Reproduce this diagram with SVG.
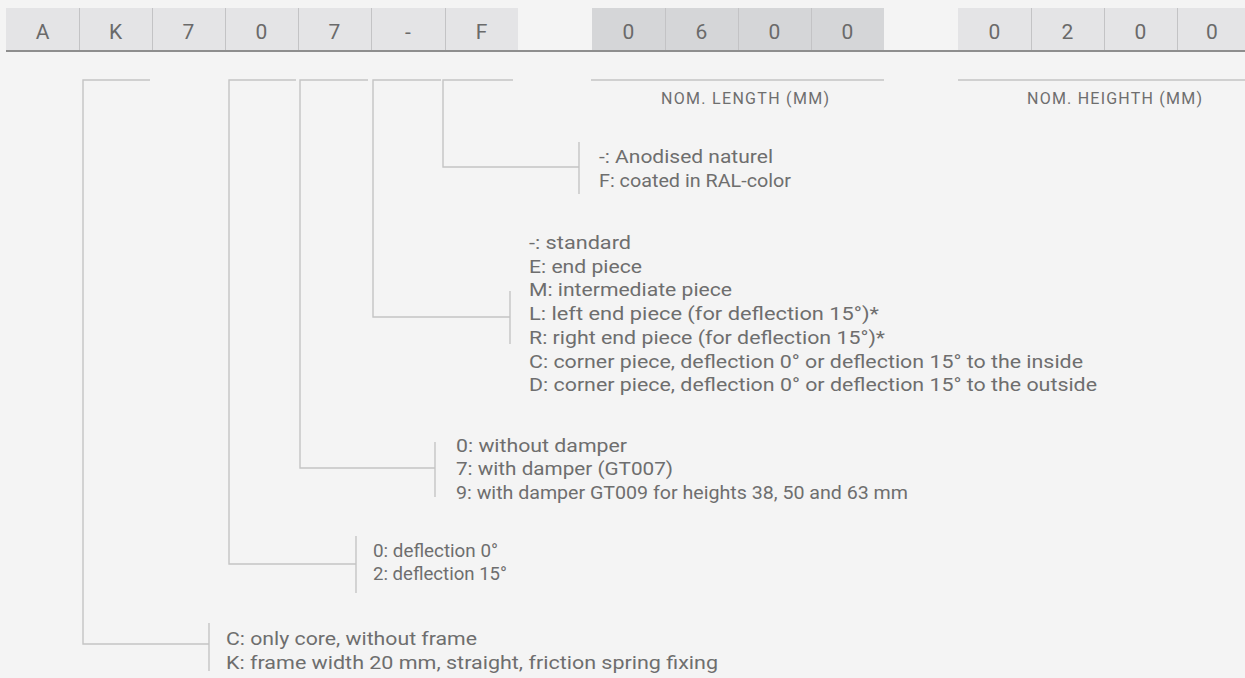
<svg xmlns="http://www.w3.org/2000/svg" width="1245" height="678" viewBox="0 0 1245 678">
<style>
.bg{fill:#f4f4f4}
.c1{fill:#e4e4e6}
.c2{fill:#d5d6d8}
.div{stroke:#c3c3c5;stroke-width:1}
.ul{stroke:#8e8e8e;stroke-width:2.2}
.ct{font-family:Roboto,"Liberation Sans",sans-serif;font-size:21px;fill:#6a6a6a;text-anchor:middle}
.ln{fill:none;stroke:#c4c4c4;stroke-width:1.4}
.t{font-family:Roboto,"Liberation Sans",sans-serif;font-size:19px;fill:#6e6e6e}
.h{font-family:Roboto,"Liberation Sans",sans-serif;font-size:16px;fill:#6e6e6e}
</style>
<rect class="bg" x="0" y="0" width="1245" height="678"/>
<g id="code-bar">
<rect class="c1" x="6" y="8" width="512" height="43"/>
<rect class="c2" x="592" y="8" width="292" height="43"/>
<rect class="c1" x="958" y="8" width="287" height="43"/>
<path class="div" d="M79.5,8V50M152.5,8V50M225.5,8V50M298.5,8V50M371.5,8V50M445.5,8V50M665.5,8V50M738.5,8V50M811.5,8V50M1031.5,8V50M1104.5,8V50M1177.5,8V50"/>
<line class="ul" x1="6" y1="51" x2="1245" y2="51"/>
<text class="ct" x="42.5" y="39">A</text>
<text class="ct" x="115.5" y="39">K</text>
<text class="ct" x="188.5" y="39">7</text>
<text class="ct" x="261.5" y="39">0</text>
<text class="ct" x="334.5" y="39">7</text>
<text class="ct" x="408" y="39">-</text>
<text class="ct" x="481.5" y="39">F</text>
<text class="ct" x="628.5" y="39">0</text>
<text class="ct" x="701.5" y="39">6</text>
<text class="ct" x="774.5" y="39">0</text>
<text class="ct" x="847.5" y="39">0</text>
<text class="ct" x="994.5" y="39">0</text>
<text class="ct" x="1067.5" y="39">2</text>
<text class="ct" x="1140.5" y="39">0</text>
<text class="ct" x="1212" y="39">0</text>
</g>
<g id="connectors">
<path class="ln" d="M150,80H83V644H209"/>
<path class="ln" d="M209,623V671"/>
<path class="ln" d="M296,80H229V564H356"/>
<path class="ln" d="M356,536V593"/>
<path class="ln" d="M368,80H300V468H435"/>
<path class="ln" d="M435,442V497"/>
<path class="ln" d="M441,80H373V317H510"/>
<path class="ln" d="M510,291V344"/>
<path class="ln" d="M513,80H443V167H579"/>
<path class="ln" d="M579,142V194"/>
<path class="ln" d="M591,80H884"/>
<path class="ln" d="M958,80H1245"/>
</g>
<g id="length-label">
<text class="h" x="661" y="104" textLength="168">NOM. LENGTH (MM)</text>
</g>
<g id="height-label">
<text class="h" x="1027" y="104" textLength="175">NOM. HEIGHTH (MM)</text>
</g>
<g id="colour-options">
<text class="t" x="599" y="163" textLength="174" lengthAdjust="spacingAndGlyphs">-: Anodised naturel</text>
<text class="t" x="599" y="187" textLength="192" lengthAdjust="spacingAndGlyphs">F: coated in RAL-color</text>
</g>
<g id="piece-options">
<text class="t" x="529" y="249" textLength="102" lengthAdjust="spacingAndGlyphs">-: standard</text>
<text class="t" x="529" y="272.7" textLength="113" lengthAdjust="spacingAndGlyphs">E: end piece</text>
<text class="t" x="529" y="296.4" textLength="203" lengthAdjust="spacingAndGlyphs">M: intermediate piece</text>
<text class="t" x="529" y="320.1" textLength="350" lengthAdjust="spacingAndGlyphs">L: left end piece (for deflection 15°)*</text>
<text class="t" x="529" y="343.8" textLength="356" lengthAdjust="spacingAndGlyphs">R: right end piece (for deflection 15°)*</text>
<text class="t" x="529" y="367.5" textLength="554" lengthAdjust="spacingAndGlyphs">C: corner piece, deflection 0° or deflection 15° to the inside</text>
<text class="t" x="529" y="391.2" textLength="568" lengthAdjust="spacingAndGlyphs">D: corner piece, deflection 0° or deflection 15° to the outside</text>
</g>
<g id="damper-options">
<text class="t" x="456" y="451.5" textLength="171" lengthAdjust="spacingAndGlyphs">0: without damper</text>
<text class="t" x="456" y="475.2" textLength="217" lengthAdjust="spacingAndGlyphs">7: with damper (GT007)</text>
<text class="t" x="456" y="498.9" textLength="452" lengthAdjust="spacingAndGlyphs">9: with damper GT009 for heights 38, 50 and 63 mm</text>
</g>
<g id="deflection-options">
<text class="t" x="373" y="556.5" textLength="125" lengthAdjust="spacingAndGlyphs">0: deflection 0°</text>
<text class="t" x="373" y="580.2" textLength="134" lengthAdjust="spacingAndGlyphs">2: deflection 15°</text>
</g>
<g id="frame-options">
<text class="t" x="226" y="645" textLength="251" lengthAdjust="spacingAndGlyphs">C: only core, without frame</text>
<text class="t" x="226" y="668.7" textLength="492" lengthAdjust="spacingAndGlyphs">K: frame width 20 mm, straight, friction spring fixing</text>
</g>
</svg>
